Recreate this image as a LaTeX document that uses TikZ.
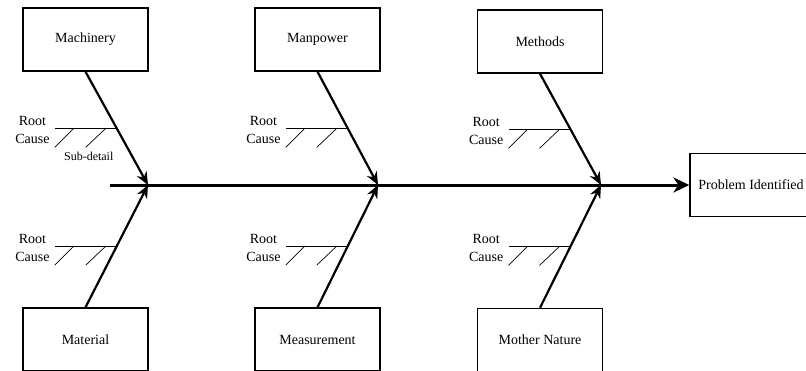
\documentclass[tikz,border=0pt]{standalone}
\usepackage{fontspec}
\setmainfont{Liberation Serif}
\usetikzlibrary{arrows.meta,calc}

\begin{document}
\begin{tikzpicture}[x=1pt, y=-1pt,
    causebox/.style={draw, line width=1.4pt, minimum width=125pt, minimum height=63pt, font=\fontsize{14}{16}\selectfont},
    bone/.style={line width=2.2pt, -{Stealth[length=13pt, width=11pt]}},
    spine/.style={line width=3pt, -{Stealth[length=16pt, width=15pt]}},
    rib/.style={line width=1.1pt},
    twig/.style={line width=0.7pt},
    rootlabel/.style={align=center, font=\fontsize{14}{18}\selectfont, inner sep=1pt}]
    \useasboundingbox (0,0) rectangle (806,370);
    \clip (0,0) rectangle (806,370);

    % category boxes
    \node[causebox] (machinery) at (85.5,39.5) {Machinery};
    \node[causebox] (manpower) at (317.5,39.5) {Manpower};
    \node[causebox] (methods) at (540,41.5) {Methods};
    \node[causebox] (material) at (85.5,339.5) {Material};
    \node[causebox] (measurement) at (317.5,339.5) {Measurement};
    \node[causebox] (nature) at (540,340) {Mother Nature};
    \node[causebox, minimum width=122pt, inner xsep=2pt] (problem) at (751,185) {Problem Identified};

    % spine
    \coordinate (tail) at (110,185);
    \coordinate (j1) at (148,185);
    \coordinate (j2) at (378,185);
    \coordinate (j3) at (601,185);
    \draw[spine] (tail) -- (problem.west);

    % bones
    \draw[bone] (machinery.south) -- (j1);
    \draw[bone] (manpower.south) -- (j2);
    \draw[bone] (methods.south) -- (j3);
    \draw[bone] (material.north) -- (j1);
    \draw[bone] (measurement.north) -- (j2);
    \draw[bone] (nature.north) -- (j3);

    % root causes
    \foreach \b/\j/\a in {machinery/j1/south, manpower/j2/south, methods/j3/south,
                          material/j1/north, measurement/j2/north, nature/j3/north} {
        \coordinate (mid-\b) at ($(\b.\a)!0.5!(\j)$);
        \draw[rib] (mid-\b) -- ++(-62,0) coordinate (rib-\b);
        \draw[twig] ($(rib-\b)+(19,0)$) -- ++(-19,19);
        \draw[twig] ($(rib-\b)+(51,0)$) -- ++(-20,19);
        \node[rootlabel, anchor=east] (root-\b) at ($(rib-\b)+(-4,2)$) {Root\\Cause};
    }
    \node[font=\fontsize{12}{14}\selectfont] (subdetail) at ($(rib-machinery)+(34,28)$) {Sub-detail};
\end{tikzpicture}
\end{document}
